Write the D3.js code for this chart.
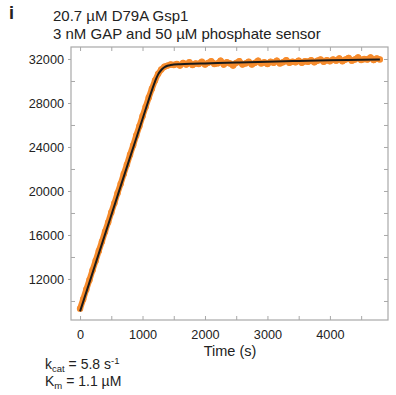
<!DOCTYPE html>
<html>
<head>
<meta charset="utf-8">
<script src="https://cdn.jsdelivr.net/npm/d3@7"></script>
<style>
  body { margin: 0; background: #fff; }
  svg text { font-family: "Liberation Sans", Arial, sans-serif; fill: #222; }
</style>
</head>
<body>
<div id="chart"></div>
<script>
// measured trace (orange), one reading every 50 s
const obsTimes = d3.range(0, 4801, 50);
const obsValues = [
  9300, 10150, 11050, 11900, 12800, 13650, 14550, 15400, 16300, 17150,
  18050, 18900, 19800, 20650, 21550, 22400, 23300, 24150, 25050, 25900,
  26800, 27650, 28500, 29300, 30050, 30650, 31050, 31300, 31400, 31500,
  31450,
  31550, 31400, 31650, 31500, 31700, 31450, 31600, 31550, 31750, 31500,
  31650, 31800, 31550, 31600, 31850, 31500, 31700, 31600, 31400, 31650,
  31800, 31500, 31600, 31750, 31500, 31650, 31850, 31600, 31700, 31550,
  31750, 31650, 31850, 31600, 31700, 31900, 31650, 31750, 31700, 31850,
  31650, 31800, 31750, 31900, 31700, 31850, 31950, 31750, 31900, 31800,
  31950, 31850, 32050, 31800, 31950, 32100, 31850, 31950, 32150, 31900,
  32000, 31950, 32150, 31900, 32050, 31950
];

// fitted curve (black)
const fitTimes = [0, 200, 400, 600, 800, 1000, 1100, 1200, 1250, 1300, 1350, 1400, 1450, 1500, 1600, 1800, 2000, 2500, 3000, 3500, 4000, 4500, 4800];
const fitValues = [9050, 12550, 16050, 19550, 23050, 26550, 28300, 29950, 30600, 31000, 31250, 31380, 31450, 31500, 31530, 31570, 31600, 31680, 31750, 31820, 31880, 31930, 31960];

const xMajor = [0, 1000, 2000, 3000, 4000];
const xMinor = [500, 1500, 2500, 3500, 4500];
const yMajor = [12000, 16000, 20000, 24000, 28000, 32000];
const yMinor = [10000, 14000, 18000, 22000, 26000, 30000];

const width = 396, height = 395;
const plot = {left: 71, right: 388, top: 47, bottom: 320};

const svg = d3.select("#chart").append("svg")
    .attr("width", width)
    .attr("height", height);

const x = d3.scaleLinear().domain([-145, 4930]).range([plot.left, plot.right]);
const y = d3.scaleLinear().domain([8270, 33090]).range([plot.bottom, plot.top]);

const frameColor = "#a8a8a8";

// data first, frame drawn on top
const obs = obsTimes.map((t, i) => [t, obsValues[i]]);
svg.append("path")
    .datum(obs)
    .attr("fill", "none")
    .attr("stroke", "#f68b2c")
    .attr("stroke-width", 6)
    .attr("stroke-linejoin", "round")
    .attr("d", d3.line().x(d => x(d[0])).y(d => y(d[1])));

svg.selectAll("circle.obs")
    .data(obs)
    .enter().append("circle")
    .attr("class", "obs")
    .attr("cx", d => x(d[0]))
    .attr("cy", d => y(d[1]))
    .attr("r", 3.2)
    .attr("fill", "#f68b2c");

svg.append("path")
    .datum(fitTimes.map((t, i) => [t, fitValues[i]]))
    .attr("fill", "none")
    .attr("stroke", "#1a1a1a")
    .attr("stroke-width", 2)
    .attr("d", d3.line().curve(d3.curveMonotoneX).x(d => x(d[0])).y(d => y(d[1])));

// frame
svg.append("rect")
    .attr("x", plot.left)
    .attr("y", plot.top)
    .attr("width", plot.right - plot.left)
    .attr("height", plot.bottom - plot.top)
    .attr("fill", "none")
    .attr("stroke", frameColor)
    .attr("stroke-width", 1.2);

// axes with inward ticks
svg.append("g")
    .attr("transform", `translate(0,${plot.bottom})`)
    .call(d3.axisBottom(x).tickValues(xMajor).tickSize(-4).tickPadding(10).tickFormat(d3.format("d")));
svg.append("g")
    .attr("transform", `translate(0,${plot.bottom})`)
    .call(d3.axisBottom(x).tickValues(xMinor).tickSize(-4).tickFormat(""));
svg.append("g")
    .attr("transform", `translate(0,${plot.top})`)
    .call(d3.axisTop(x).tickValues(xMajor.concat(xMinor)).tickSize(-4).tickFormat(""));

svg.append("g")
    .attr("transform", `translate(${plot.left},0)`)
    .call(d3.axisLeft(y).tickValues(yMajor).tickSize(3).tickPadding(4).tickFormat(d3.format("d")));
svg.append("g")
    .attr("transform", `translate(${plot.left},0)`)
    .call(d3.axisLeft(y).tickValues(yMinor).tickSize(-4).tickFormat(""));
svg.append("g")
    .attr("transform", `translate(${plot.right},0)`)
    .call(d3.axisRight(y).tickValues(yMajor.concat(yMinor)).tickSize(-4).tickFormat(""));

svg.selectAll(".domain").remove();
svg.selectAll(".tick line").attr("stroke", frameColor);
svg.selectAll(".tick text")
    .style("font-family", "'Liberation Sans', Arial, sans-serif")
    .style("font-size", "12.7px")
    .attr("fill", "#222");

// titles
svg.append("text")
    .attr("x", 9).attr("y", 19)
    .style("font-size", "18px").style("font-weight", "bold")
    .text("i");
svg.append("text")
    .attr("x", 53).attr("y", 21)
    .style("font-size", "15px")
    .text("20.7 µM D79A Gsp1");
svg.append("text")
    .attr("x", 53).attr("y", 39)
    .style("font-size", "15px")
    .text("3 nM GAP and 50 µM phosphate sensor");

svg.append("text")
    .attr("x", 230)
    .attr("y", 356)
    .attr("text-anchor", "middle")
    .style("font-size", "14.5px")
    .text("Time (s)");

// kinetic constants
const k1 = svg.append("text").attr("x", 45).attr("y", 369).style("font-size", "14px");
k1.append("tspan").text("k");
k1.append("tspan").attr("dy", 3).style("font-size", "9.5px").text("cat");
k1.append("tspan").attr("dy", -3).text(" = 5.8 s");
k1.append("tspan").attr("dy", -5).style("font-size", "9.5px").text("-1");

const k2 = svg.append("text").attr("x", 45).attr("y", 386).style("font-size", "14px");
k2.append("tspan").text("K");
k2.append("tspan").attr("dy", 3).style("font-size", "9.5px").text("m");
k2.append("tspan").attr("dy", -3).text(" = 1.1 µM");
</script>
</body>
</html>
